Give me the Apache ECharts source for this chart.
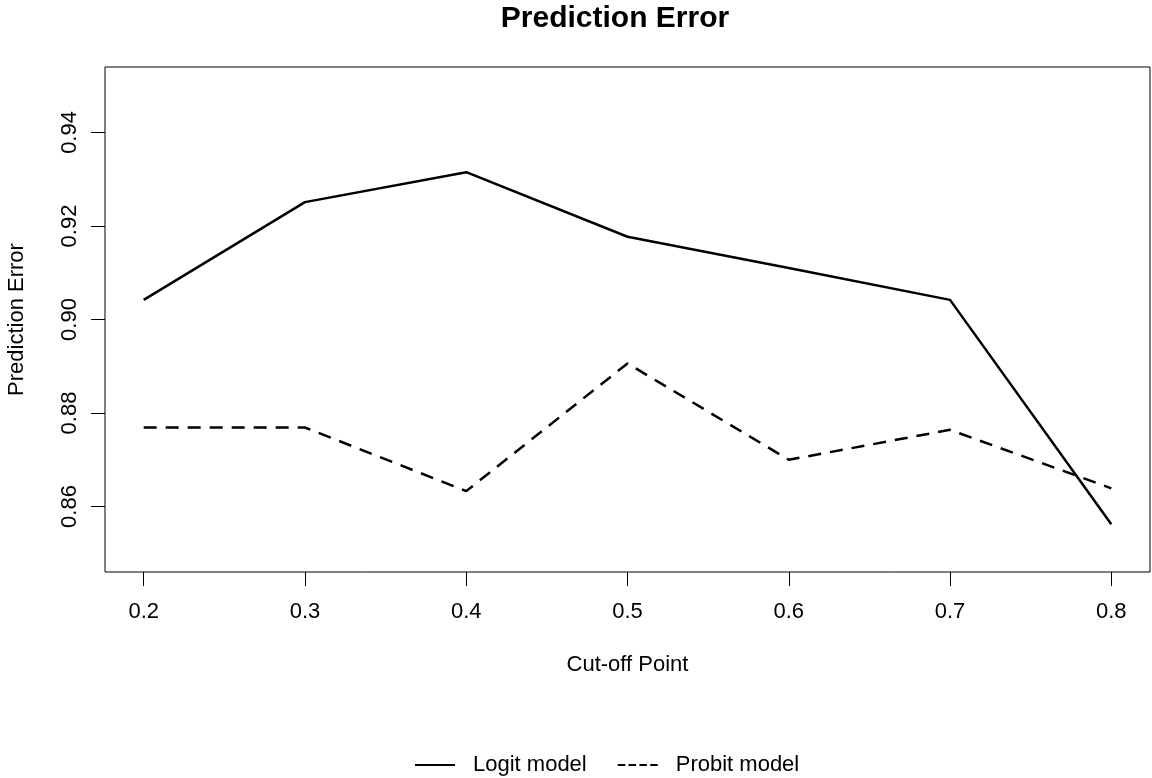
<!DOCTYPE html>
<html>
<head>
<meta charset="utf-8">
<script src="https://cdn.jsdelivr.net/npm/echarts@6/dist/echarts.min.js"></script>
<style>html,body{margin:0;padding:0;background:#fff;}#c{width:1152px;height:778px;}</style>
</head>
<body>
<div id="c"></div>
<script>
const cutoffs = [0.2, 0.3, 0.4, 0.5, 0.6, 0.7, 0.8];
const logitError = [0.9042, 0.9251, 0.9315, 0.9177, 0.9110, 0.9042, 0.8562];
const probitError = [0.8769, 0.8769, 0.8633, 0.8906, 0.8700, 0.8764, 0.8639];
const xTicks = [0.2, 0.3, 0.4, 0.5, 0.6, 0.7, 0.8];
const yTicks = [0.86, 0.88, 0.90, 0.92, 0.94];

const FONT = '"Liberation Sans", Arial, sans-serif';
const SOLID_ICON = 'path://M0,0H40V2H0Z';
const DASH_ICON = 'path://M0,0H7.5V2H0Z M10.8,0H18.3V2H10.8Z M21.7,0H29.2V2H21.7Z M32.5,0H40V2H32.5Z';
const chart = echarts.init(document.getElementById('c'), null, {renderer: 'canvas'});
chart.setOption({
  backgroundColor: '#fff',
  animation: false,
  title: {
    text: 'Prediction Error',
    left: 610, top: -1, textAlign: 'center',
    textStyle: {fontFamily: FONT, fontWeight: 'bold', fontSize: 30, color: '#000'}
  },
  legend: {
    bottom: 2, left: 415, padding: 0,
    itemWidth: 40, itemHeight: 2, itemGap: 31, symbolKeepAspect: false,
    data: [
      {name: 'Logit model', icon: SOLID_ICON},
      {name: 'Probit model', icon: DASH_ICON}
    ],
    itemStyle: {color: '#000', borderWidth: 0},
    textStyle: {fontFamily: FONT, fontSize: 22, color: '#000', padding: [0, 0, 0, 13]}
  },
  grid: {
    left: 105, right: 2, top: 67, bottom: 206, outerBoundsMode: 'none',
    show: true, borderColor: '#000', borderWidth: 1, backgroundColor: 'transparent'
  },
  xAxis: {
    type: 'value', min: 0.176, max: 0.824,
    name: 'Cut-off Point', nameLocation: 'middle', nameGap: 82,
    nameTextStyle: {fontFamily: FONT, fontSize: 22, color: '#000'},
    axisLine: {show: false},
    splitLine: {show: false},
    axisTick: {show: true, inside: false, length: 14, lineStyle: {color: '#000', width: 1}, customValues: xTicks},
    axisLabel: {fontFamily: FONT, fontSize: 22, color: '#000', margin: 29, customValues: xTicks,
      formatter: v => v.toFixed(1)}
  },
  yAxis: {
    type: 'value', min: 0.846, max: 0.954,
    name: 'Prediction Error', nameLocation: 'middle', nameGap: 77,
    nameTextStyle: {fontFamily: FONT, fontSize: 22, color: '#000'},
    axisLine: {show: false},
    splitLine: {show: false},
    axisTick: {show: true, inside: false, length: 14, lineStyle: {color: '#000', width: 1}, customValues: yTicks},
    axisLabel: {fontFamily: FONT, fontSize: 22, color: '#000', margin: 24, rotate: 90, customValues: yTicks,
      formatter: v => v.toFixed(2)}
  },
  series: [
    {
      name: 'Logit model', type: 'line', symbol: 'none',
      data: cutoffs.map((x, i) => [x, logitError[i]]),
      lineStyle: {color: '#000', width: 2.5, type: 'solid'},
      itemStyle: {color: '#000'}
    },
    {
      name: 'Probit model', type: 'line', symbol: 'none',
      data: cutoffs.map((x, i) => [x, probitError[i]]),
      lineStyle: {color: '#000', width: 2.5, type: [13, 9]},
      itemStyle: {color: '#000'}
    }
  ]
});
</script>
</body>
</html>
